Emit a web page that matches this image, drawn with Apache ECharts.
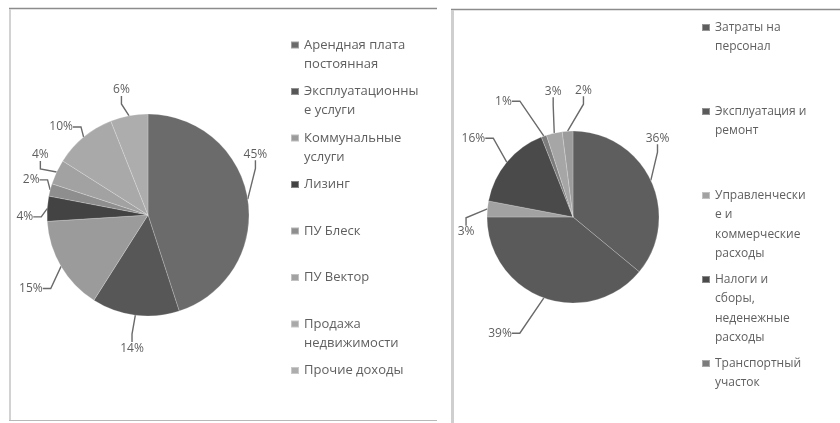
<!DOCTYPE html>
<html>
<head>
<meta charset="utf-8">
<script src="https://cdn.jsdelivr.net/npm/echarts@6/dist/echarts.min.js"></script>
<style>
  html, body { margin: 0; padding: 0; background: #fff; }
  #chart { width: 840px; height: 423px; }
</style>
</head>
<body>
<div id="chart"></div>
<script>
// Доходы (левая диаграмма), %
const incomeNames = [
  'Арендная плата\nпостоянная',
  'Эксплуатационны\nе услуги',
  'Коммунальные\nуслуги',
  'Лизинг',
  'ПУ Блеск',
  'ПУ Вектор',
  'Продажа\nнедвижимости',
  'Прочие доходы'
];
const incomeValues = [45, 14, 15, 4, 2, 4, 10, 6];

// Расходы (правая диаграмма), %
const costNames = [
  'Затраты на\nперсонал',
  'Эксплуатация и\nремонт',
  'Управленчески\nе и\nкоммерческие\nрасходы',
  'Налоги и\nсборы,\nнеденежные\nрасходы',
  'Транспортный\nучасток',
  'Прочие расходы',
  'Финансовые расходы'
];
const costValues = [36, 39, 3, 16, 1, 3, 2];
// В легенде показаны только первые пять статей расходов
const costLegendCount = 5;

// Оттенки серого для секторов
const incomeColors = ['#6b6b6b', '#575757', '#9b9b9b', '#434343', '#8e8e8e', '#a2a2a2', '#a9a9a9', '#adadad'];
const costColors = ['#5e5e5e', '#5a5a5a', '#a2a2a2', '#4a4a4a', '#7c7c7c', '#a6a6a6', '#9c9c9c'];

// Сдвиг подписей значений относительно стандартного положения (px)
const incomeLabelShift = [[-29, -43], [23, 21], [5, 16], [11, 9], [14, -7], [16, -12], [10, -1], [16, -14]];
const costLabelShift = [[-29, -37], [-15, 24], [7, 24], [1, -23], [16, -46], [48, -42], [38, -29]];

const FONT = '"Open Sans", "Noto Sans", sans-serif';
const TEXT = '#5f5f5f';

// Маркер легенды выровнен по первой строке подписи
function topSquareIcon(w, blockH, lineH, size) {
  const c = lineH / 2;
  const y0 = c - size / 2, y1 = c + size / 2;
  return 'path://M0,0 M0,' + y0 + ' L' + w + ',' + y0 + ' L' + w + ',' + y1 +
         ' L0,' + y1 + ' Z M' + w + ',' + blockH;
}
// Все пункты легенды занимают одинаковое число строк,
// чтобы первые строки шли с равным шагом
function padLines(n) {
  return function (name) {
    const k = name.split('\n').length;
    return name + '\n'.repeat(Math.max(0, n - k));
  };
}

const leftLine = 19, leftLines = 2;
const rightLine = 19.5, rightLines = 4;

function pieData(names, values, colors) {
  return names.map((n, i) => ({ name: n, value: values[i], itemStyle: { color: colors[i] } }));
}

function shiftedLabels(shifts) {
  return function (p) {
    const s = shifts[p.dataIndex] || [0, 0];
    const r = p.labelRect;
    return {
      x: r.x + r.width / 2 + s[0],
      y: r.y + r.height / 2 + s[1],
      align: 'center',
      verticalAlign: 'middle'
    };
  };
}

const pieCommon = {
  type: 'pie',
  startAngle: 90,
  clockwise: true,
  avoidLabelOverlap: true,
  animation: false,
  itemStyle: { borderColor: 'rgba(255,255,255,0.35)', borderWidth: 0.6 },
  label: {
    show: true,
    position: 'outside',
    formatter: '{c}%',
    color: TEXT,
    fontFamily: FONT,
    fontSize: 12,
    overflow: 'none'
  },
  labelLine: {
    show: true,
    length: 12,
    length2: 8,
    lineStyle: { color: '#6a6a6a', width: 1.4 }
  },
  emphasis: { disabled: true }
};

const costLegendNames = costNames.slice(0, costLegendCount);

const chart = echarts.init(document.getElementById('chart'), null, { renderer: 'canvas' });

chart.setOption({
  backgroundColor: '#ffffff',
  animation: false,
  graphic: [
    // рамки двух панелей
    { type: 'line', shape: { x1: 9, y1: 8.5, x2: 437, y2: 8.5 }, style: { stroke: '#8c8c8c', lineWidth: 1.5 } },
    { type: 'line', shape: { x1: 10, y1: 9, x2: 10, y2: 421 }, style: { stroke: '#d2d2d2', lineWidth: 2 } },
    { type: 'line', shape: { x1: 9, y1: 420.5, x2: 437, y2: 420.5 }, style: { stroke: '#b8b8b8', lineWidth: 1 } },
    { type: 'line', shape: { x1: 451, y1: 9.5, x2: 840, y2: 9.5 }, style: { stroke: '#8c8c8c', lineWidth: 1.5 } },
    { type: 'line', shape: { x1: 452.5, y1: 10, x2: 452.5, y2: 423 }, style: { stroke: '#cfcfcf', lineWidth: 3 } }
  ],
  legend: [
    {
      seriesIndex: 0,
      orient: 'vertical',
      left: 290,
      top: 34.5,
      height: 400,
      padding: 0,
      itemWidth: 8,
      itemHeight: leftLine * leftLines,
      itemGap: 6.5,
      selectedMode: false,
      icon: topSquareIcon(8, leftLine * leftLines, leftLine, 7),
      data: incomeNames,
      formatter: padLines(leftLines),
      textStyle: { color: TEXT, fontFamily: FONT, fontSize: 13, lineHeight: leftLine }
    },
    {
      orient: 'vertical',
      left: 701,
      top: 16.75,
      height: 440,
      padding: 0,
      itemWidth: 8,
      itemHeight: rightLine * rightLines,
      itemGap: 4,
      selectedMode: false,
      icon: topSquareIcon(8, rightLine * rightLines, rightLine, 7),
      data: costLegendNames,
      formatter: padLines(rightLines),
      textStyle: { color: TEXT, fontFamily: FONT, fontSize: 12, lineHeight: rightLine }
    }
  ],
  series: [
    Object.assign({}, pieCommon, {
      name: 'Доходы',
      center: [148, 215],
      radius: 101,
      labelLayout: shiftedLabels(incomeLabelShift),
      data: pieData(incomeNames, incomeValues, incomeColors)
    }),
    Object.assign({}, pieCommon, {
      name: 'Расходы',
      center: [573, 217],
      radius: 86,
      labelLayout: shiftedLabels(costLabelShift),
      data: pieData(costNames, costValues, costColors)
    })
  ]
});
</script>
</body>
</html>
